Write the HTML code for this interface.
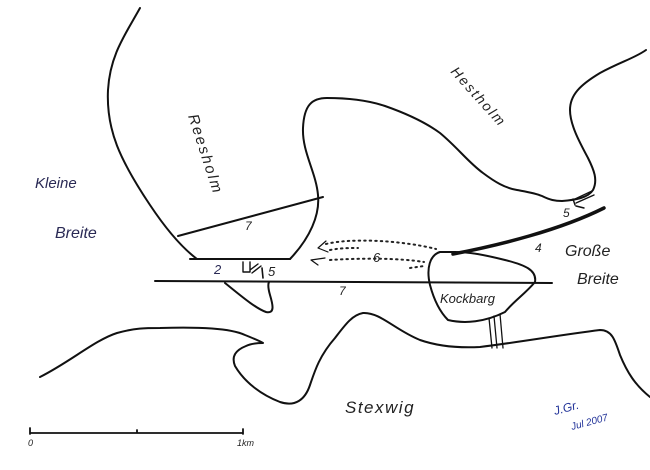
<!DOCTYPE html>
<html><head><meta charset="utf-8"><style>
html,body{margin:0;padding:0;background:#fff;}
svg{display:block;}
text{font-family:"Liberation Sans",sans-serif;font-style:italic;}
</style></head><body>
<svg width="650" height="470" viewBox="0 0 650 470" xmlns="http://www.w3.org/2000/svg">
<g fill="none" stroke="#111" stroke-width="2" stroke-linecap="round" stroke-linejoin="round">
<!-- Reesholm left coast -->
<path d="M140,8 C125,35 110,55 108,90 C106,130 120,160 150,205 C170,235 185,250 197,259"/>
<path d="M190,259 L290,259"/>
<!-- right side + Hestholm coast -->
<path d="M290,259 C310,238 320,215 318,195 C316,172 302,152 303,128 C304,105 312,98 327,98 C345,98 367,100 385,106 C405,113 425,122 440,133 C458,148 468,162 483,173 C495,182 505,188 517,190 C528,192 535,193 542,196 C550,200 555,201 562,201 C575,200 588,198 593,190 C598,180 594,170 588,158 C580,143 570,125 570,110 C570,95 580,85 600,73 C620,62 635,58 646,50"/>
<!-- transect 7 top -->
<path d="M178,236 L323,197"/>
<!-- line 7 lower -->
<path d="M155,281 L552,283"/>
<!-- peninsula -->
<path d="M225,283 C240,295 255,308 266,312 C275,314 273,305 270,295 C268,288 268,284 269,282"/>
<!-- Kockbarg -->
<path d="M440,252 C430,255 426,268 430,285 C434,300 440,312 448,320 C465,324 485,322 505,312 C515,300 525,294 535,282 C537,270 525,265 505,260 C485,255 470,252 455,252 Z"/>
<path d="M453,254 C500,245 560,230 604,208" stroke-width="3.5"/>
<!-- lower coast -->
<path d="M40,377 C70,362 95,340 117,333 C135,328 145,328 160,328 C200,327 230,328 245,335 C255,339 260,341 263,343 C255,343 250,344 246,346 C236,350 231,356 235,366 C245,383 262,395 280,402 C295,407 305,400 310,385 C315,370 320,355 335,338 C345,325 352,315 363,313 C380,312 395,330 420,340 C440,347 460,348 480,347 C520,342 560,335 600,330 C612,330 615,340 620,355 C627,372 635,385 650,397"/>
<!-- bridge lines -->
<path d="M489,318 L492,348 M494,316 L497,348 M500,314 L503,348" stroke-width="1.3"/>
<!-- scale bar -->
<path d="M30,428 L30,434 M30,433 L243,433 M243,429 L243,434 M137,430 L137,433" stroke-width="1.8"/>
<!-- small structure 5 at Reesholm -->
<path d="M243,262 L243,272 L250,272 L250,262 M250,270 L258,264 M252,273 L261,266" stroke-width="1.4"/>
<path d="M262,268 L263,278" stroke-width="1.6"/>
<path d="M573,199 L575,205 M575,199 L592,191 M576,203 L594,195" stroke-width="1.4"/>
<path d="M576,206 L584,208" stroke-width="1.5"/>
<!-- arrows -->
<path d="M326,241 L318,248 L328,252" stroke-width="1.2"/>
<path d="M325,258 L311,260 L318,265" stroke-width="1.2"/>
</g>
<g fill="none" stroke="#222" stroke-width="2" stroke-dasharray="1.5 4" stroke-linecap="round">
<path d="M326,244 C350,238 400,240 436,249"/>
<path d="M330,260 C360,258 400,258 424,262"/>
<path d="M330,250 C340,248 350,248 358,248"/>
<path d="M410,268 L424,266"/>
</g>
<g fill="#222" font-size="14">
<text x="35" y="188" font-size="15" fill="#2a2a55">Kleine</text>
<text x="55" y="238" font-size="16" fill="#2a2a55">Breite</text>
<text x="565" y="256" font-size="16">Große</text>
<text x="577" y="284" font-size="16">Breite</text>
<text x="440" y="303" font-size="13">Kockbarg</text>
<text x="345" y="413" font-size="17" letter-spacing="1.5">Stexwig</text>
<text transform="translate(188,116) rotate(72)" font-size="15" letter-spacing="2">Reesholm</text>
<text transform="translate(450,72) rotate(48)" font-size="14" letter-spacing="2">Hestholm</text>
<text x="245" y="230" font-size="12">7</text>
<text x="339" y="295" font-size="12">7</text>
<text x="214" y="274" font-size="13" fill="#2a2a55">2</text>
<text x="268" y="276" font-size="13">5</text>
<text x="373" y="262" font-size="13">6</text>
<text x="535" y="252" font-size="12">4</text>
<text x="563" y="217" font-size="12">5</text>
<text x="28" y="446" font-size="9">0</text>
<text x="237" y="446" font-size="9">1km</text>
<text transform="translate(555,415) rotate(-15)" font-size="12" fill="#223399">J.Gr.</text>
<text transform="translate(572,430) rotate(-15)" font-size="10" fill="#223399">Jul 2007</text>
</g>
</svg>
</body></html>
